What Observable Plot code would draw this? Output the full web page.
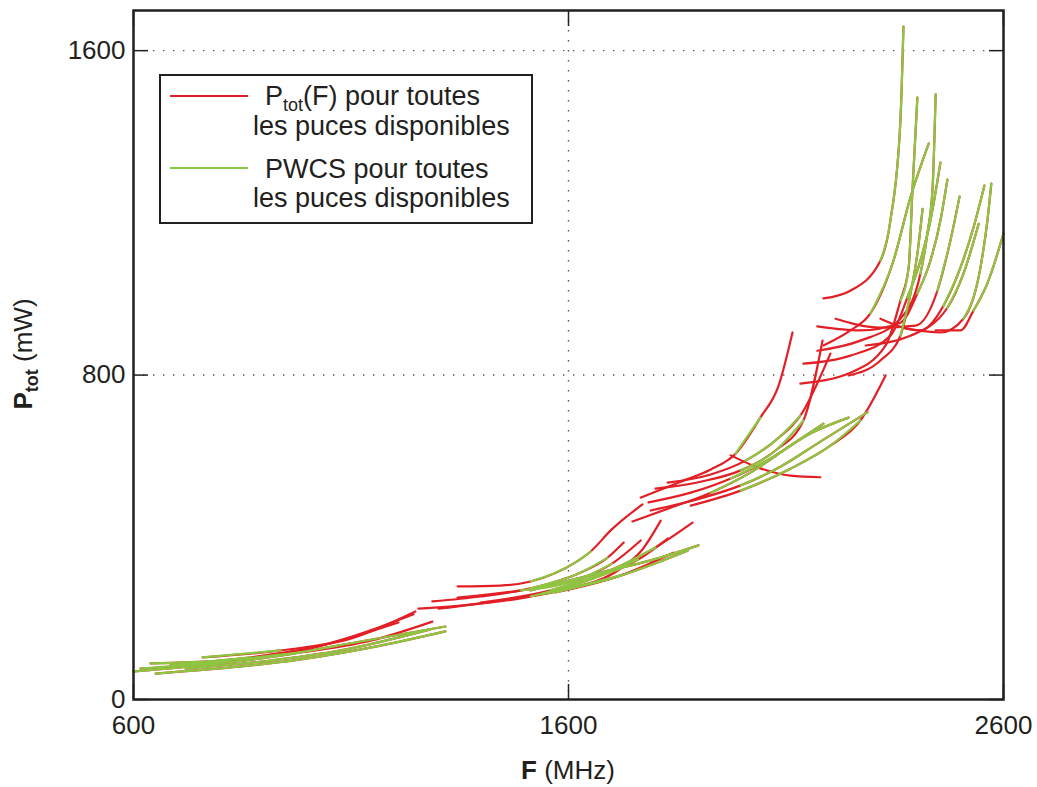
<!DOCTYPE html>
<html><head><meta charset="utf-8">
<script src="https://cdn.jsdelivr.net/npm/d3@7"></script>
<script src="https://cdn.jsdelivr.net/npm/@observablehq/plot@0.6"></script>
<style>
html,body{margin:0;padding:0;background:#fff;}
#wrap{position:relative;width:1037px;height:787px;}
#wrap svg.overlay{position:absolute;left:0;top:0;pointer-events:none;}
</style></head><body><div id="wrap"></div>
<script>
// Tick values
const xTicks = [600, 1600, 2600];
const yTicks = [0, 800, 1600];
const gridXValues = [1600];
const gridYValues = [800, 1600];

// Each chip: P_tot(F) curve as [F (MHz), P (mW)] pairs
const curves = [
  // low-frequency group
  [[600,69],[754,84],[938,108],[1122,143],[1317,180]],
  [[651,64],[823,79],[984,99],[1168,133],[1317,168]],
  [[639,89],[800,96],[984,116],[1145,145],[1287,192]],
  [[759,104],[938,121],[1099,150],[1248,217]],
  [[685,84],[869,104],[1030,133],[1244,210]],
  [[616,76],[823,94],[1007,126],[1209,190]],
  [[720,76],[915,96],[1076,121],[1283,173]],
  // mid group
  [[1345,279],[1444,281],[1513,291],[1616,338],[1651,365],[1697,417],[1770,481]],
  [[1287,242],[1398,254],[1513,274],[1628,313],[1690,350],[1727,387]],
  [[1255,224],[1375,234],[1513,254],[1674,306],[1760,345],[1828,397]],
  [[1301,224],[1444,244],[1582,269],[1720,323],[1770,370],[1812,441]],
  [[1345,251],[1490,269],[1628,298],[1700,335],[1766,392]],
  [[1513,269],[1674,313],[1789,343],[1899,380]],
  [[1536,259],[1697,298],[1874,367]],
  [[1570,264],[1720,306],[1841,362]],
  [[1398,239],[1559,269],[1720,330],[1800,375],[1885,436]],
  // upper-mid group
  [[1766,498],[1858,537],[1927,567],[1984,606],[2041,695],[2083,774],[2115,905]],
  [[1747,439],[1835,473],[1927,510],[2019,560],[2110,626],[2186,680]],
  [[1784,486],[1881,510],[1973,545],[2064,594],[2156,656],[2244,695]],
  [[1789,466],[1904,496],[1996,528],[2087,574],[2179,636],[2287,708]],
  [[1800,520],[1904,537],[1996,565],[2076,614],[2140,688],[2184,885]],
  [[1828,535],[1927,555],[2007,589],[2076,639],[2133,700],[2202,853]],
  [[1881,478],[1996,515],[2110,569],[2202,626],[2271,688],[2329,799]],
  [[1973,602],[2041,570],[2110,552],[2179,548]],
  // high-frequency group
  [[2186,989],[2248,1008],[2317,1082],[2340,1181],[2363,1427],[2370,1659]],
  [[2133,779],[2248,806],[2329,873],[2363,984],[2382,1065],[2391,1262],[2402,1484]],
  [[2172,860],[2271,885],[2363,939],[2409,1050],[2425,1149],[2437,1262],[2444,1492]],
  [[2186,873],[2248,910],[2294,952],[2347,1082],[2386,1238],[2428,1371]],
  [[2140,828],[2248,848],[2340,897],[2379,991],[2409,1082],[2432,1181],[2455,1324]],
  [[2172,920],[2271,910],[2363,929],[2402,1001],[2432,1082],[2455,1181],[2471,1282]],
  [[2214,939],[2317,917],[2398,922],[2448,1008],[2478,1132],[2499,1240]],
  [[2317,939],[2409,910],[2462,971],[2501,1065],[2531,1164],[2556,1267]],
  [[2375,915],[2455,905],[2508,939],[2547,1065],[2563,1181],[2572,1272]],
  [[2444,910],[2501,910],[2531,959],[2563,1026],[2600,1149]],
  [[2283,873],[2386,897],[2471,966],[2508,1050],[2543,1173]],
  [[2244,799],[2317,836],[2363,897],[2386,1000],[2402,1099],[2414,1210]]
];

// PWCS portion of each curve: [first point index, last point index]
const greenIdx = [
  [0,4],[0,4],[0,2],[0,1],[0,1],[0,1],[0,3],
  [2,4],[2,4],[2,4],[2,3],[1,3],[0,3],[0,2],[0,1],[1,3],
  [3,4],[2,5],[2,5],[2,5],[2,4],[2,4],[1,4],[-1,-2],
  [2,5],[3,6],[3,6],[2,5],[3,6],[3,6],[3,5],[2,5],[2,5],[2,4],[2,4],[2,5]
];

const redData = curves.flatMap((c, i) => c.map(([F, P]) => ({id: i, F, P})));
const greenData = curves.flatMap((c, i) => {
  const [a, b] = greenIdx[i];
  if (a < 0) return [];
  return c.slice(a, b + 1).map(([F, P]) => ({id: i, F, P}));
});

const ink = "#231f20";
const red = "#e31f26";
const green = "#8dc641";

const chart = Plot.plot({
  width: 1037, height: 787,
  marginLeft: 133, marginRight: 34, marginTop: 10, marginBottom: 88,
  style: {fontFamily: "'Liberation Sans', Arial, sans-serif", fontSize: "26px", color: ink, background: "#fff"},
  x: {domain: [600, 2600]},
  y: {domain: [0, 1699]},
  marks: [
    Plot.gridX(gridXValues, {stroke: "#555", strokeOpacity: 1, strokeWidth: 1.4, strokeDasharray: "1.4,8.6"}),
    Plot.gridY(gridYValues, {stroke: "#555", strokeOpacity: 1, strokeWidth: 1.4, strokeDasharray: "1.4,8.6"}),
    Plot.line(redData, {x: "F", y: "P", z: "id", stroke: red, strokeWidth: 2.2, curve: "monotone-x"}),
    Plot.line(greenData, {x: "F", y: "P", z: "id", stroke: green, strokeWidth: 2.2, curve: "monotone-x"}),
    Plot.axisX(xTicks, {anchor: "bottom", tickSize: -15, tickPadding: 31, tickFormat: d => String(d), label: null, stroke: ink, strokeWidth: 1.5}),
    Plot.axisX(xTicks, {anchor: "top", tickSize: -15, tickFormat: () => "", label: null, stroke: ink, strokeWidth: 1.5}),
    Plot.axisY(yTicks, {anchor: "left", tickSize: -15, tickPadding: 23, tickFormat: d => String(d), label: null, stroke: ink, strokeWidth: 1.5}),
    Plot.axisY(yTicks, {anchor: "right", tickSize: -15, tickFormat: () => "", label: null, stroke: ink, strokeWidth: 1.5}),
    Plot.frame({stroke: ink, strokeWidth: 2.5})
  ]
});

const wrap = document.getElementById("wrap");
wrap.appendChild(chart);

// Overlay: legend and axis titles
const ns = "http://www.w3.org/2000/svg";
const ov = document.createElementNS(ns, "svg");
ov.setAttribute("class", "overlay");
ov.setAttribute("width", 1037);
ov.setAttribute("height", 787);
ov.innerHTML = `
<g font-family="'Liberation Sans', Arial, sans-serif" fill="${ink}">
  <rect x="160" y="75" width="372" height="148" fill="#fff" stroke="${ink}" stroke-width="2"/>
  <line x1="170" x2="248" y1="96" y2="96" stroke="${red}" stroke-width="2"/>
  <line x1="170" x2="248" y1="168" y2="168" stroke="${green}" stroke-width="2"/>
  <text x="265" y="105" font-size="27">P<tspan font-size="18" dy="6">tot</tspan><tspan dy="-6">(F) pour toutes</tspan></text>
  <text x="253" y="135" font-size="27">les puces disponibles</text>
  <text x="265" y="178" font-size="27">PWCS pour toutes</text>
  <text x="253" y="207" font-size="27">les puces disponibles</text>
  <text x="568" y="779" font-size="26" text-anchor="middle"><tspan font-weight="bold">F</tspan> (MHz)</text>
  <text transform="translate(32,354) rotate(-90)" font-size="26" text-anchor="middle"><tspan font-weight="bold">P</tspan><tspan font-weight="bold" font-size="18" dy="6">tot</tspan><tspan dy="-6"> (mW)</tspan></text>
</g>`;
wrap.appendChild(ov);
</script>
</body></html>
